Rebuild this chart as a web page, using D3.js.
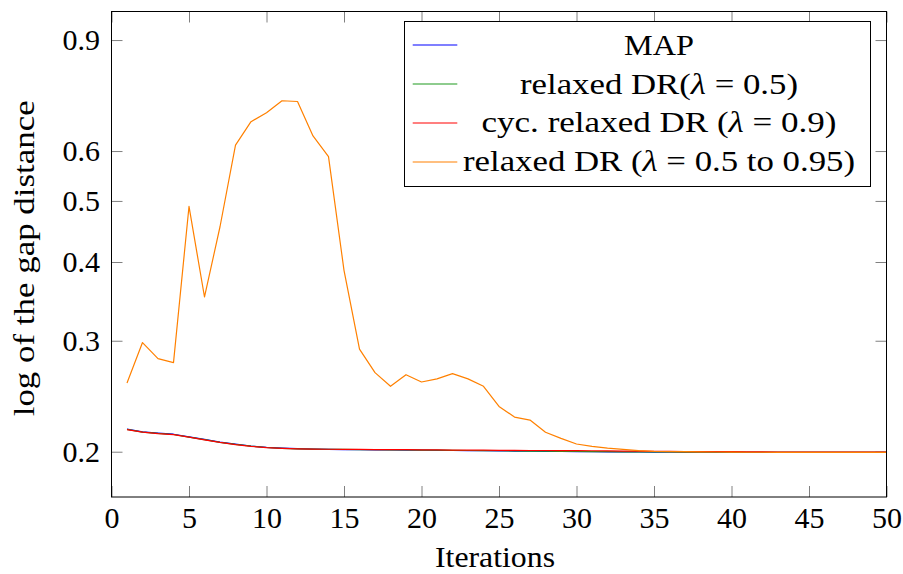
<!DOCTYPE html>
<html>
<head>
<meta charset="utf-8">
<script src="https://cdn.jsdelivr.net/npm/d3@7"></script>
<style>
  html, body { margin: 0; padding: 0; background: #fff; }
  svg { display: block; }
  text { font-family: "Liberation Serif", "Times New Roman", serif; fill: #000; }
</style>
</head>
<body>
<svg id="chart" width="903" height="574"></svg>
<script>
// ---- data ----
const iterations = d3.range(1, 51);
const mapValues = [0.2172, 0.2150, 0.2140, 0.2132, 0.2112, 0.2092, 0.2072, 0.2056, 0.2042, 0.2032,
  0.2026, 0.2022, 0.2019, 0.2017, 0.2016, 0.2015, 0.2014, 0.2013, 0.2012, 0.2011,
  0.2010, 0.2009, 0.2008, 0.2007, 0.2006, 0.2005, 0.2004, 0.2003, 0.2002, 0.2001,
  0.2000, 0.1999, 0.1998, 0.1998, 0.1997, 0.1997, 0.1997, 0.1997, 0.1996, 0.1996,
  0.1996, 0.1996, 0.1996, 0.1996, 0.1996, 0.1996, 0.1996, 0.1996, 0.1996, 0.1996];
const relaxedHalfValues = [0.2170, 0.2149, 0.2138, 0.2130, 0.2110, 0.2090, 0.2070, 0.2054, 0.2041, 0.2031,
  0.2025, 0.2021, 0.2019, 0.2018, 0.2017, 0.2016, 0.2015, 0.2014, 0.2013, 0.2012,
  0.2011, 0.2010, 0.2009, 0.2008, 0.2007, 0.2006, 0.2005, 0.2004, 0.2003, 0.2002,
  0.2001, 0.2000, 0.1999, 0.1999, 0.1998, 0.1998, 0.1997, 0.1997, 0.1997, 0.1997,
  0.1996, 0.1996, 0.1996, 0.1996, 0.1996, 0.1996, 0.1996, 0.1996, 0.1996, 0.1996];
const cyclicValues = [0.2168, 0.2148, 0.2137, 0.2129, 0.2109, 0.2089, 0.2069, 0.2053, 0.2040, 0.2030,
  0.2025, 0.2021, 0.2019, 0.2018, 0.2017, 0.2017, 0.2016, 0.2016, 0.2015, 0.2014,
  0.2013, 0.2012, 0.2012, 0.2011, 0.2010, 0.2010, 0.2009, 0.2009, 0.2008, 0.2008,
  0.2007, 0.2006, 0.2005, 0.2004, 0.2003, 0.2002, 0.2001, 0.2001, 0.2000, 0.2000,
  0.1999, 0.1999, 0.1998, 0.1998, 0.1998, 0.1997, 0.1997, 0.1997, 0.1997, 0.1997];
const varyingValues = [0.257, 0.298, 0.281, 0.277, 0.490, 0.352, 0.455, 0.613, 0.668, 0.690,
  0.721, 0.719, 0.634, 0.588, 0.388, 0.291, 0.267, 0.254, 0.265, 0.258,
  0.261, 0.266, 0.261, 0.254, 0.236, 0.227, 0.2245, 0.2147, 0.2100, 0.2057,
  0.2040, 0.2027, 0.2017, 0.2008, 0.2003, 0.2001, 0.2000, 0.1999, 0.1998, 0.1997,
  0.1996, 0.1996, 0.1995, 0.1995, 0.1995, 0.1995, 0.1995, 0.1995, 0.1995, 0.1995];

const seriesNames = ["MAP", "relaxed DR(λ = 0.5)", "cyc. relaxed DR (λ = 0.9)", "relaxed DR (λ = 0.5 to 0.95)"];
const seriesColors = ["#0000ff", "#1f9a1f", "#ff0000", "#ff8000"];
const seriesValues = [mapValues, relaxedHalfValues, cyclicValues, varyingValues];

const xTicks = [0, 5, 10, 15, 20, 25, 30, 35, 40, 45, 50];
const yTicks = [0.2, 0.3, 0.4, 0.5, 0.6, 0.9];
const xDomain = [0, 50];
const yDomain = [0.1695, 0.999];
const xTitle = "Iterations";
const yTitle = "log of the gap distance";

// ---- layout ----
const plotLeft = 111.5, plotRight = 886.5, plotTop = 11.5, plotBottom = 497;
const svg = d3.select("#chart");
const x = d3.scaleLinear().domain(xDomain).range([plotLeft, plotRight]);
const y = d3.scaleLog().domain(yDomain).range([plotBottom, plotTop]);
const FS = 30;

// axes (inward ticks)
function styleAxis(g) {
  g.select(".domain").remove();
  g.selectAll(".tick line").attr("stroke", "#808080").attr("stroke-width", 1);
  g.selectAll(".tick text").attr("font-size", FS).attr("fill", "#000");
}
svg.append("g").attr("transform", `translate(0,${plotBottom})`)
  .call(d3.axisBottom(x).tickValues(xTicks).tickSize(-11).tickPadding(10).tickFormat(d3.format("d")))
  .call(styleAxis);
svg.append("g").attr("transform", `translate(0,${plotTop})`)
  .call(d3.axisTop(x).tickValues(xTicks).tickSize(-11).tickFormat(""))
  .call(styleAxis);
svg.append("g").attr("transform", `translate(${plotLeft},0)`)
  .call(d3.axisLeft(y).tickValues(yTicks).tickSize(-11).tickPadding(11.5).tickFormat(d3.format(".1f")))
  .call(styleAxis);
svg.append("g").attr("transform", `translate(${plotRight},0)`)
  .call(d3.axisRight(y).tickValues(yTicks).tickSize(-11).tickFormat(""))
  .call(styleAxis);

// lines
svg.append("defs").append("clipPath").attr("id", "clip")
  .append("rect").attr("x", plotLeft).attr("y", plotTop).attr("width", plotRight - plotLeft).attr("height", plotBottom - plotTop);
const line = d3.line().x((d, i) => x(iterations[i])).y(d => y(d));
const lines = svg.append("g").attr("clip-path", "url(#clip)");
seriesValues.forEach((vals, k) => {
  lines.append("path").datum(vals)
    .attr("d", line)
    .attr("fill", "none")
    .attr("stroke", seriesColors[k])
    .attr("stroke-width", 1.2)
    .attr("stroke-linejoin", "round");
});

// frame
svg.append("rect").attr("x", plotLeft).attr("y", plotTop)
  .attr("width", plotRight - plotLeft).attr("height", plotBottom - plotTop)
  .attr("fill", "none").attr("stroke", "#000").attr("stroke-width", 1);

// axis titles
svg.append("text").attr("x", 495).attr("y", 567)
  .attr("text-anchor", "middle").attr("font-size", FS)
  .attr("textLength", 120).attr("lengthAdjust", "spacingAndGlyphs")
  .text(xTitle);
svg.append("text").attr("transform", "translate(33.5,258.3) rotate(-90)")
  .attr("text-anchor", "middle").attr("font-size", FS)
  .attr("textLength", 316).attr("lengthAdjust", "spacingAndGlyphs")
  .text(yTitle);

// legend
const legend = svg.append("g");
legend.append("rect").attr("x", 404.5).attr("y", 21.5).attr("width", 466).attr("height", 165)
  .attr("fill", "#fff").attr("stroke", "#000").attr("stroke-width", 1);
const rowLineY = [45, 84, 123, 162];
const rowTextY = [55, 93.5, 132, 170.5];
const rowWidths = [70, 278, 355, 392];
seriesNames.forEach((name, k) => {
  legend.append("line").attr("x1", 412.7).attr("x2", 457.3)
    .attr("y1", rowLineY[k]).attr("y2", rowLineY[k])
    .attr("stroke", seriesColors[k]).attr("stroke-width", 1.2);
  const t = legend.append("text").attr("x", 659).attr("y", rowTextY[k])
    .attr("text-anchor", "middle").attr("font-size", FS)
    .attr("textLength", rowWidths[k]).attr("lengthAdjust", "spacingAndGlyphs");
  const parts = name.split("λ");
  t.append("tspan").text(parts[0]);
  if (parts.length > 1) {
    t.append("tspan").attr("font-style", "italic").text("λ");
    t.append("tspan").text(parts[1]);
  }
});
</script>
</body>
</html>
